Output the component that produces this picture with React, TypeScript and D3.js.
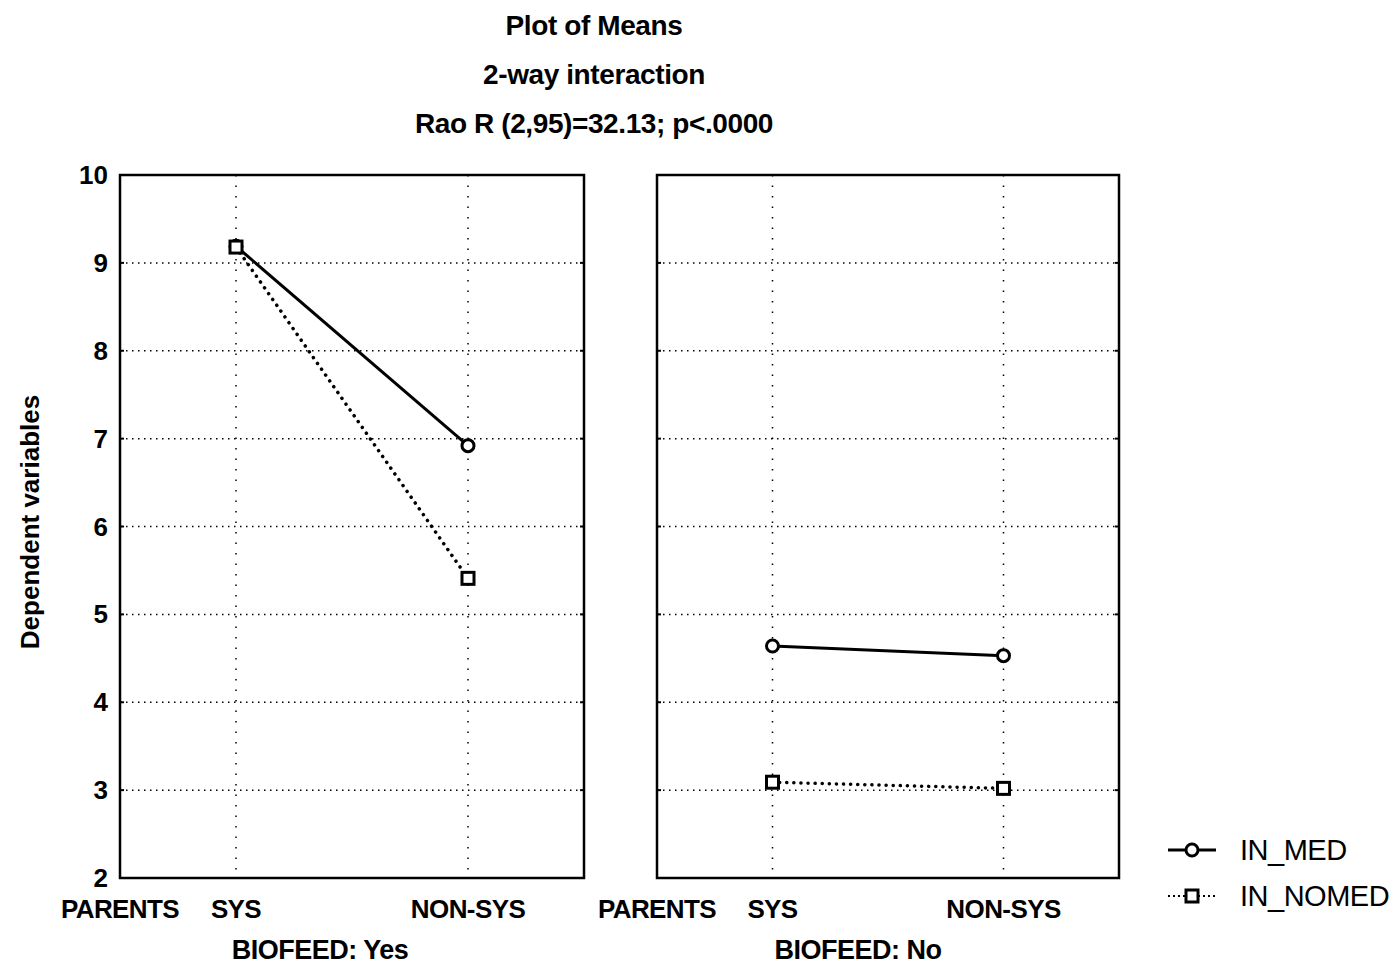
import React from "react";
import * as d3 from "d3";

const titleLines = ["Plot of Means", "2-way interaction", "Rao R (2,95)=32.13; p<.0000"];
const factorName = "PARENTS";
const levels = ["SYS", "NON-SYS"];
const panels = ["BIOFEED: Yes", "BIOFEED: No"];
const inMed = [
  [9.19, 6.92],
  [4.64, 4.53],
];
const inNomed = [
  [9.18, 5.41],
  [3.09, 3.02],
];
const yTicks = [2, 3, 4, 5, 6, 7, 8, 9, 10];
const seriesNames = ["IN_MED", "IN_NOMED"];
const yLabel = "Dependent variables";

const FONT = "'Liberation Sans', Arial, sans-serif";

export default function App() {
  const W = 1400, H = 967;
  const top = 175, bottom = 878;
  const panelX = [[120, 584], [657, 1119]];
  const y = d3.scaleLinear().domain([2, 10]).range([bottom, top]);
  const lineGen = d3.line<[number, number]>().x(d => d[0]).y(d => d[1]);

  const circle = (cx: number, cy: number, k: string) => (
    <circle key={k} cx={cx} cy={cy} r={6} fill="#fff" stroke="#000" strokeWidth={3} />
  );
  const square = (cx: number, cy: number, k: string) => (
    <rect key={k} x={cx - 6} y={cy - 6} width={12} height={12} fill="#fff" stroke="#000" strokeWidth={3} />
  );

  return (
    <svg width={W} height={H} style={{ position: "absolute", left: 0, top: 0, background: "#fff" }} fontFamily={FONT}>
      <rect width={W} height={H} fill="#fff" />
      {titleLines.map((t, i) => (
        <text key={t} x={594} y={35 + i * 49} textAnchor="middle" fontSize={28} fontWeight="bold" letterSpacing={-0.4}>
          {t}
        </text>
      ))}
      <text transform={`translate(39,522) rotate(-90)`} textAnchor="middle" fontSize={26} fontWeight="bold" letterSpacing={0}>
        {yLabel}
      </text>
      {panels.map((p, pi) => {
        const [x0, x1] = panelX[pi];
        const x = d3.scaleLinear().domain([0, 4]).range([x0, x1]);
        const lvlX = levels.map((_, i) => x(1 + 2 * i));
        const medPts = inMed[pi].map((v, i) => [lvlX[i], y(v)] as [number, number]);
        const nomPts = inNomed[pi].map((v, i) => [lvlX[i], y(v)] as [number, number]);
        return (
          <g key={p}>
            {yTicks.slice(1, -1).map(t => (
              <line key={"g" + t} x1={x0} x2={x1} y1={y(t)} y2={y(t)} stroke="#000" strokeWidth={1.5} strokeDasharray="1.5 4.5" />
            ))}
            {lvlX.map((lx, i) => (
              <line key={"v" + i} x1={lx} x2={lx} y1={top} y2={bottom} stroke="#000" strokeWidth={1.5} strokeDasharray="1.5 9" />
            ))}
            {yTicks.map(t => (
              <g key={"t" + t}>
                <line x1={x0} x2={x0 + 4} y1={y(t)} y2={y(t)} stroke="#000" strokeWidth={2} />
                <line x1={x1 - 4} x2={x1} y1={y(t)} y2={y(t)} stroke="#000" strokeWidth={2} />
              </g>
            ))}
            <rect x={x0} y={top} width={x1 - x0} height={bottom - top} fill="none" stroke="#000" strokeWidth={2.5} />
            <path d={lineGen(nomPts) || ""} fill="none" stroke="#000" strokeWidth={3.5} strokeDasharray="0.1 7" strokeLinecap="round" />
            <path d={lineGen(medPts) || ""} fill="none" stroke="#000" strokeWidth={3} />
            {medPts.map((pt, i) => circle(pt[0], pt[1], "c" + i))}
            {nomPts.map((pt, i) => square(pt[0], pt[1], "s" + i))}
            {pi === 0 &&
              yTicks.map(t => (
                <text key={"yl" + t} x={x0 - 12} y={y(t) + 9} textAnchor="end" fontSize={26} fontWeight="bold">
                  {t}
                </text>
              ))}
            <text x={x(0)} y={918} textAnchor="middle" fontSize={26} fontWeight="bold" letterSpacing={-0.6}>
              {factorName}
            </text>
            {levels.map((l, i) => (
              <text key={l} x={lvlX[i]} y={918} textAnchor="middle" fontSize={26} fontWeight="bold" letterSpacing={-0.6}>
                {l}
              </text>
            ))}
            <text x={(x0 + x1) / 2 + (pi === 0 ? -32 : -30)} y={959} textAnchor="middle" fontSize={27} fontWeight="bold" letterSpacing={-0.5}>
              {p}
            </text>
          </g>
        );
      })}
      {seriesNames.map((s, i) => {
        const ly = 850 + i * 46;
        return (
          <g key={s}>
            {i === 0 ? (
              <line x1={1168} x2={1216} y1={ly} y2={ly} stroke="#000" strokeWidth={3} />
            ) : (
              <line x1={1168} x2={1216} y1={ly} y2={ly} stroke="#000" strokeWidth={2} strokeDasharray="2 3" />
            )}
            {i === 0 ? circle(1192, ly, "lc") : square(1192, ly, "ls")}
            <text x={1240} y={ly + 10} fontSize={29} letterSpacing={-0.5}>
              {s}
            </text>
          </g>
        );
      })}
    </svg>
  );
}
